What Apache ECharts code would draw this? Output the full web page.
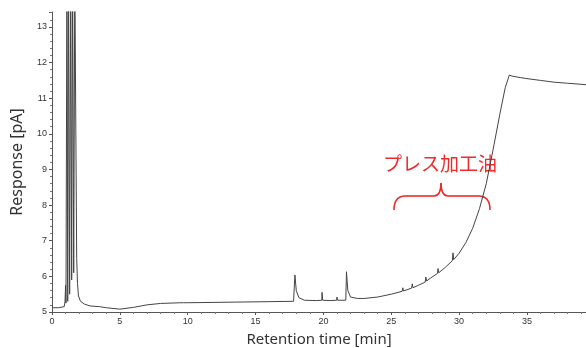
<!DOCTYPE html>
<html>
<head>
<meta charset="utf-8">
<script src="https://cdn.jsdelivr.net/npm/echarts@6/dist/echarts.min.js"></script>
<style>
  html, body { margin: 0; padding: 0; background: #fff; }
  #chart { width: 586px; height: 348px; }
</style>
</head>
<body>
<div id="chart"></div>
<script>
// retention time [min] and response [pA]
var times = [
  0, 0.5, 0.9, 0.96, 1.0, 1.03, 1.06, 1.1, 1.16, 1.22, 1.3, 1.38, 1.45, 1.52, 1.6, 1.68, 1.77, 1.82, 1.88, 1.95,
  2.1, 2.4, 2.8, 3.5, 4, 5, 6, 7, 8, 9.5, 9.6, 9.7, 10, 12, 14, 16, 17.8,
  17.9, 18.0, 18.2, 18.6, 19.5, 19.88, 19.9, 19.95, 20.5, 20.98, 21.0, 21.05, 21.65,
  21.7, 21.8, 22.0, 22.5, 23, 24, 25, 25.8, 25.85, 25.9, 26.5, 26.55, 26.6,
  27, 27.5, 27.55, 27.6, 28, 28.4, 28.45, 28.5, 29, 29.5, 29.55, 29.6,
  30, 30.5, 31, 31.5, 32, 32.5, 33, 33.4, 33.7, 33.9, 34.5, 35, 36, 37, 38, 39.35
];
var response = [
  5.12, 5.12, 5.15, 5.3, 5.75, 5.25, 5.2, 14.5, 5.3, 14.5, 5.5, 14.5, 5.9, 14.5, 6.1, 14.5, 14.5, 6.5, 5.8, 5.45,
  5.3, 5.22, 5.17, 5.15, 5.12, 5.08, 5.13, 5.2, 5.24, 5.26, 5.3, 5.26, 5.26, 5.27, 5.28, 5.29, 5.3,
  6.04, 5.6, 5.4, 5.33, 5.32, 5.33, 5.55, 5.33, 5.32, 5.33, 5.42, 5.33, 5.33,
  6.13, 5.6, 5.42, 5.38, 5.38, 5.42, 5.5, 5.58, 5.68, 5.59, 5.67, 5.79, 5.68,
  5.75, 5.84, 5.98, 5.87, 5.98, 6.08, 6.22, 6.1, 6.26, 6.44, 6.66, 6.47,
  6.65, 6.95, 7.35, 7.9, 8.6, 9.55, 10.55, 11.3, 11.65, 11.62, 11.58, 11.55, 11.5, 11.45, 11.42, 11.38
];
var xTicks = [0, 5, 10, 15, 20, 25, 30, 35];
var yTicks = [5, 6, 7, 8, 9, 10, 11, 12, 13];

var points = times.map(function (t, i) { return [t, response[i]]; });

var myChart = echarts.init(document.getElementById('chart'));
var tickFont = { fontFamily: 'Liberation Sans', fontSize: 9, color: '#333' };
var red = '#ee2b2b';
var braceStyle = { stroke: red, lineWidth: 1.6, fill: null };

var option = {
  animation: false,
  grid: { left: 52, right: 0, top: 12, bottom: 36, outerBoundsMode: 'none', containLabel: false },
  xAxis: {
    type: 'value',
    min: 0,
    max: 39.35,
    interval: 5,
    name: 'Retention time [min]',
    nameLocation: 'middle',
    nameGap: 20,
    nameTextStyle: { fontFamily: 'Noto Sans', fontSize: 15, color: '#333' },
    axisLine: { lineStyle: { color: '#555' } },
    axisTick: { length: 3, lineStyle: { color: '#555' } },
    minorTick: { show: true, splitNumber: 5, length: 2, lineStyle: { color: '#777' } },
    splitLine: { show: false },
    axisLabel: Object.assign({ margin: 5, showMaxLabel: false, formatter: function (v) {
      return xTicks.indexOf(v) >= 0 ? String(v) : '';
    } }, tickFont)
  },
  yAxis: {
    type: 'value',
    min: 5,
    max: 13.42,
    interval: 1,
    name: 'Response [pA]',
    nameLocation: 'middle',
    nameGap: 27,
    nameTextStyle: { fontFamily: 'Noto Sans', fontSize: 16, color: '#333' },
    axisLine: { show: true, lineStyle: { color: '#555' } },
    axisTick: { show: true, length: 3, lineStyle: { color: '#555' } },
    minorTick: { show: true, splitNumber: 5, length: 2, lineStyle: { color: '#777' } },
    splitLine: { show: false },
    axisLabel: Object.assign({ margin: 5, showMaxLabel: false, formatter: function (v) {
      return yTicks.indexOf(v) >= 0 ? String(v) : '';
    } }, tickFont)
  },
  series: [{
    type: 'line',
    data: points,
    showSymbol: false,
    clip: true,
    lineStyle: { color: '#444', width: 1 }
  }],
  graphic: [
    {
      type: 'text',
      x: 383,
      y: 154,
      style: {
        text: 'プレス加工油',
        fontFamily: 'Noto Sans CJK JP',
        fontSize: 19,
        fill: red
      }
    },
    // curly brace under the label
    { type: 'bezierCurve', shape: { x1: 394, y1: 210, x2: 404, y2: 196, cpx1: 394, cpy1: 197 }, style: braceStyle },
    { type: 'line', shape: { x1: 404, y1: 196, x2: 434, y2: 196 }, style: braceStyle },
    { type: 'bezierCurve', shape: { x1: 434, y1: 196, x2: 441, y2: 183, cpx1: 441, cpy1: 196 }, style: braceStyle },
    { type: 'bezierCurve', shape: { x1: 441, y1: 183, x2: 448, y2: 196, cpx1: 441, cpy1: 196 }, style: braceStyle },
    { type: 'line', shape: { x1: 448, y1: 196, x2: 480, y2: 196 }, style: braceStyle },
    { type: 'bezierCurve', shape: { x1: 480, y1: 196, x2: 490, y2: 210, cpx1: 490, cpy1: 197 }, style: braceStyle }
  ]
};
myChart.setOption(option);
</script>
</body>
</html>
